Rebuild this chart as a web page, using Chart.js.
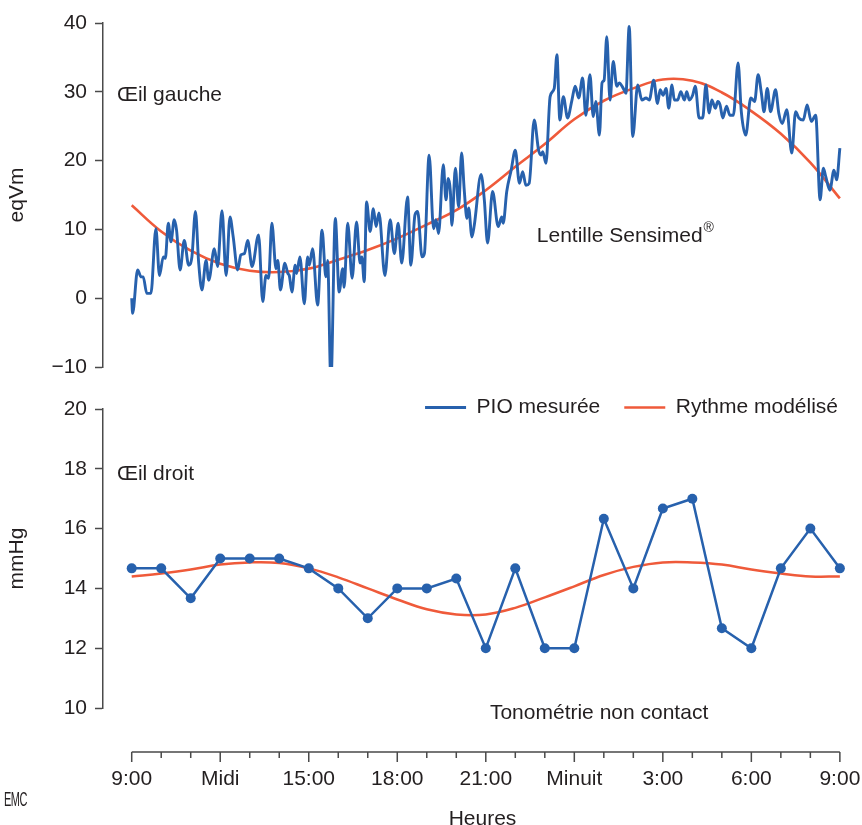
<!DOCTYPE html>
<html>
<head>
<meta charset="utf-8">
<script src="https://cdn.jsdelivr.net/npm/chart.js@4.4.0/dist/chart.umd.min.js"></script>
<style>
  body { margin: 0; background: #fff; overflow: hidden; }
  #cadre { position: relative; width: 862px; height: 825px; }
  canvas { position: absolute; left: 0; }
  #emc { position: absolute; left: 4px; top: 788px; font: 20px "Liberation Sans", Arial, sans-serif;
         color: #231f20; transform: scaleX(0.55); transform-origin: left top; letter-spacing: -1px; }
</style>
</head>
<body>
<div id="cadre">
  <canvas id="haut" width="862" height="428" style="top:0"></canvas>
  <canvas id="bas" width="862" height="452" style="top:380px"></canvas>
  <div id="emc">EMC</div>
</div>
<script>
// heures écoulées depuis 9:00
const heuresLabels = ['9:00', 'Midi', '15:00', '18:00', '21:00', 'Minuit', '3:00', '6:00', '9:00'];
const heuresRythme = [0,1,2,3,4,5,6,7,8,9,10,11,12,13,14,15,16,17,18,19,20,21,22,23,24];

// Œil gauche - lentille Sensimed (eqVm)
const pioGaucheHeures = [
  0.00,0.03,0.20,0.32,0.39,0.51,0.65,0.82,0.94,1.07,1.14,1.24,1.33,1.44,1.52,1.64,1.78,1.93,2.04,2.16,
  2.27,2.38,2.52,2.61,2.80,2.91,3.06,3.20,3.33,3.44,3.59,3.70,3.82,3.93,4.08,4.30,4.44,4.55,4.64,4.75,
  4.89,4.95,5.04,5.19,5.29,5.34,5.43,5.54,5.59,5.70,5.85,5.96,6.02,6.13,6.30,6.45,6.58,6.64,6.75,6.90,
  7.03,7.15,7.20,7.32,7.47,7.62,7.74,7.80,7.88,7.96,8.08,8.19,8.28,8.38,8.58,8.76,8.90,9.03,9.15,9.35,
  9.46,9.60,9.69,9.84,9.92,10.08,10.23,10.31,10.40,10.56,10.65,10.73,10.80,10.85,10.97,11.08,11.18,11.27,11.36,11.42,
  11.53,11.61,11.84,11.95,12.06,12.23,12.42,12.54,12.59,12.71,12.86,13.00,13.14,13.25,13.36,13.47,13.64,13.79,13.87,13.93,
  14.04,14.18,14.32,14.41,14.51,14.63,14.77,14.92,15.03,15.15,15.28,15.39,15.53,15.64,15.73,15.85,15.94,16.01,16.10,16.21,
  16.32,16.44,16.52,16.66,16.75,16.86,16.98,17.15,17.29,17.43,17.54,17.69,17.82,17.91,18.01,18.11,18.20,18.31,18.39,18.50,
  18.61,18.73,18.81,18.90,19.01,19.10,19.23,19.35,19.46,19.57,19.66,19.78,19.86,19.94,20.03,20.16,20.27,20.39,20.55,20.66,
  20.81,20.98,21.11,21.23,21.34,21.43,21.54,21.65,21.82,21.93,22.05,22.20,22.37,22.50,22.61,22.76,22.89,23.03,23.18,23.33,
  23.44,23.52,23.66,23.80,23.89,24.00
];
const pioGaucheValeurs = [
  0.0,-2.2,4.1,3.1,3.1,0.7,0.7,10.1,3.3,6.0,5.8,10.9,8.2,11.4,9.9,4.1,8.4,4.8,6.0,12.6,
  5.1,1.2,5.5,2.6,7.2,4.6,12.7,3.3,11.8,8.9,4.1,6.3,6.5,8.4,4.6,9.2,-0.5,3.3,2.9,10.9,
  4.3,5.5,1.2,5.1,3.6,3.3,0.9,4.8,3.6,6.0,-0.8,6.0,4.8,7.2,-1.0,9.9,3.1,5.5,-12.2,11.6,
  0.9,4.3,1.6,10.9,2.9,11.1,5.1,6.0,2.4,14.0,9.7,13.0,10.4,12.4,3.3,11.4,6.5,10.9,5.1,14.7,
  4.8,12.1,12.6,6.0,6.5,20.8,10.1,11.4,9.4,19.4,14.3,17.4,15.5,10.6,18.9,13.3,21.1,15.7,11.6,13.1,
  8.9,10.6,18.0,14.3,8.0,15.5,10.4,11.8,10.9,15.5,18.6,21.5,16.7,18.4,16.4,16.7,25.9,21.5,20.8,21.3,
  19.6,29.3,30.5,35.4,25.9,29.3,26.2,28.8,30.8,29.1,32.0,26.6,32.5,26.4,28.6,23.7,31.3,31.7,38.0,28.8,
  34.4,30.8,31.3,30.5,29.8,39.5,23.5,31.0,28.8,29.1,28.8,31.7,28.3,30.3,29.5,30.5,27.6,31.0,28.8,28.8,
  30.0,28.8,30.0,28.8,29.5,30.8,26.2,26.2,31.0,26.9,28.8,27.6,28.6,28.1,26.2,27.9,26.6,26.6,34.2,27.1,
  23.7,29.1,28.6,32.5,29.8,27.1,30.5,27.1,30.3,26.9,25.4,27.4,21.1,27.1,26.2,25.9,28.1,25.7,26.6,14.3,
  18.9,17.7,15.7,18.6,17.2,21.8
];
const rythmeGaucheValeurs = [
  13.5,9.7,6.9,5.0,4.0,3.8,4.3,5.6,7.0,8.7,10.7,12.8,15.7,19.1,22.4,26.0,28.7,30.5,31.8,31.6,
  29.9,27.2,23.9,19.7,14.5
];

// Œil droit - tonométrie non contact (mmHg)
const pioDroitValeurs = [
  14.67,14.67,13.67,15,15,15,14.67,14,13,14,14,14.33,12,14.67,12,12,16.33,14,16.67,17,
  12.67,12,14.67,16,14.67
];
const rythmeDroitValeurs = [
  14.4,14.5,14.63,14.8,14.87,14.85,14.67,14.37,14.0,13.63,13.3,13.13,13.13,13.35,13.7,14.07,14.45,14.72,14.87,14.87,
  14.8,14.63,14.5,14.4,14.4
];

const BLEU = '#2761ad';
const ROUGE = '#ef5a3a';
const TEXTE = '#231f20';
const AXE = '#4a4a4a';
const POLICE = '"Liberation Sans", Arial, Helvetica, sans-serif';

Chart.defaults.font.family = POLICE;
Chart.defaults.font.size = 21;
Chart.defaults.color = TEXTE;

const pts = (xs, ys) => xs.map((x, i) => ({ x: x, y: ys[i] }));

const textes = {
  id: 'textes',
  afterDatasetsDraw(chart, args, opts) {
    const { ctx, scales: { x, y } } = chart;
    ctx.save();
    ctx.fillStyle = TEXTE;
    ctx.textBaseline = 'middle';
    (opts.items || []).forEach(t => {
      const px = x.getPixelForValue(t.x);
      const py = y.getPixelForValue(t.y);
      ctx.font = '21px ' + POLICE;
      ctx.fillText(t.texte, px, py);
      if (t.exposant) {
        const w = ctx.measureText(t.texte).width;
        ctx.font = '14px ' + POLICE;
        ctx.fillText(t.exposant, px + w + 1, py - 8);
      }
    });
    ctx.restore();
  }
};

// axe des heures décalé sous le panneau du bas
const axeHeures = {
  id: 'axeHeures',
  afterDraw(chart) {
    const { ctx, scales: { x } } = chart;
    const yl = chart.chartArea.bottom + 44;
    ctx.save();
    ctx.strokeStyle = AXE;
    ctx.lineWidth = 1.5;
    ctx.beginPath();
    ctx.moveTo(x.getPixelForValue(0), yl);
    ctx.lineTo(x.getPixelForValue(24), yl);
    heuresRythme.forEach(h => {
      const px = x.getPixelForValue(h);
      ctx.moveTo(px, yl);
      ctx.lineTo(px, yl + (h % 3 === 0 ? 10 : 6));
    });
    ctx.stroke();
    ctx.restore();
  }
};

const echelleX = {
  type: 'linear',
  min: -0.973,
  max: 24.75
};

const axeY = (min, max, pas, titre) => ({
  min: min, max: max,
  ticks: {
    stepSize: pas, padding: 8, color: TEXTE,
    callback: v => v < 0 ? '\u2212' + Math.abs(v) : v
  },
  grid: { drawOnChartArea: false, drawTicks: true, tickLength: 8, tickWidth: 1.5, tickColor: AXE },
  border: { display: true, color: AXE, width: 1.5 },
  title: { display: true, text: titre, color: TEXTE, padding: { top: 5, bottom: 0 } },
  afterFit: s => { s.width = 103; }
});

new Chart(document.getElementById('haut'), {
  type: 'line',
  data: {
    datasets: [{
      label: 'PIO mesurée',
      data: pts(pioGaucheHeures, pioGaucheValeurs),
      borderColor: BLEU,
      backgroundColor: BLEU,
      borderWidth: 2.9,
      pointRadius: 0,
      cubicInterpolationMode: 'monotone'
    }, {
      label: 'Rythme modélisé',
      data: pts(heuresRythme, rythmeGaucheValeurs),
      borderColor: ROUGE,
      backgroundColor: ROUGE,
      borderWidth: 2.6,
      pointRadius: 0,
      tension: 0.4
    }]
  },
  options: {
    responsive: false,
    animation: false,
    layout: { autoPadding: false, padding: { top: 23, left: 0, right: 0, bottom: 0 } },
    scales: {
      x: Object.assign({}, echelleX, {
        ticks: { display: false },
        grid: { display: false },
        border: { display: false },
        afterFit: s => { s.height = 6; }
      }),
      y: axeY(-10, 40, 10, 'eqVm')
    },
    plugins: {
      legend: {
        position: 'bottom',
        align: 'end',
        labels: {
          usePointStyle: true,
          pointStyle: 'line',
          pointStyleWidth: 41,
          padding: 24,
          color: TEXTE,
          font: { size: 21 }
        }
      },
      tooltip: { enabled: false },
      textes: {
        items: [
          { texte: 'Œil gauche', x: -0.5, y: 29.5 },
          { texte: 'Lentille Sensimed', exposant: '®', x: 13.73, y: 9.0 }
        ]
      }
    }
  },
  plugins: [textes]
});

new Chart(document.getElementById('bas'), {
  type: 'line',
  data: {
    datasets: [{
      label: 'PIO mesurée',
      data: pts(heuresRythme, pioDroitValeurs),
      borderColor: BLEU,
      backgroundColor: BLEU,
      borderWidth: 2.5,
      pointRadius: 5,
      pointBorderWidth: 0,
      pointBackgroundColor: BLEU,
      tension: 0
    }, {
      label: 'Rythme modélisé',
      data: pts(heuresRythme, rythmeDroitValeurs),
      borderColor: ROUGE,
      borderWidth: 2.5,
      pointRadius: 0,
      tension: 0.4
    }]
  },
  options: {
    responsive: false,
    animation: false,
    layout: { autoPadding: false, padding: { top: 29, left: 0, right: 0, bottom: 0 } },
    scales: {
      x: Object.assign({}, echelleX, {
        afterBuildTicks: s => { s.ticks = heuresLabels.map((l, i) => ({ value: i * 3 })); },
        ticks: {
          padding: 51,
          color: TEXTE,
          maxRotation: 0,
          autoSkip: false,
          callback: v => heuresLabels[v / 3]
        },
        grid: { display: false },
        border: { display: false },
        title: { display: true, text: 'Heures', color: TEXTE, padding: { top: 0, bottom: 0 } },
        afterFit: s => { s.height = 124; s.paddingLeft = 0; s.paddingRight = 0; }
      }),
      y: axeY(10, 20, 2, 'mmHg')
    },
    plugins: {
      legend: { display: false },
      tooltip: { enabled: false },
      textes: {
        items: [
          { texte: 'Œil droit', x: -0.5, y: 17.83 },
          { texte: 'Tonométrie non contact', x: 12.14, y: 9.83 }
        ]
      }
    }
  },
  plugins: [textes, axeHeures]
});
</script>
</body>
</html>
